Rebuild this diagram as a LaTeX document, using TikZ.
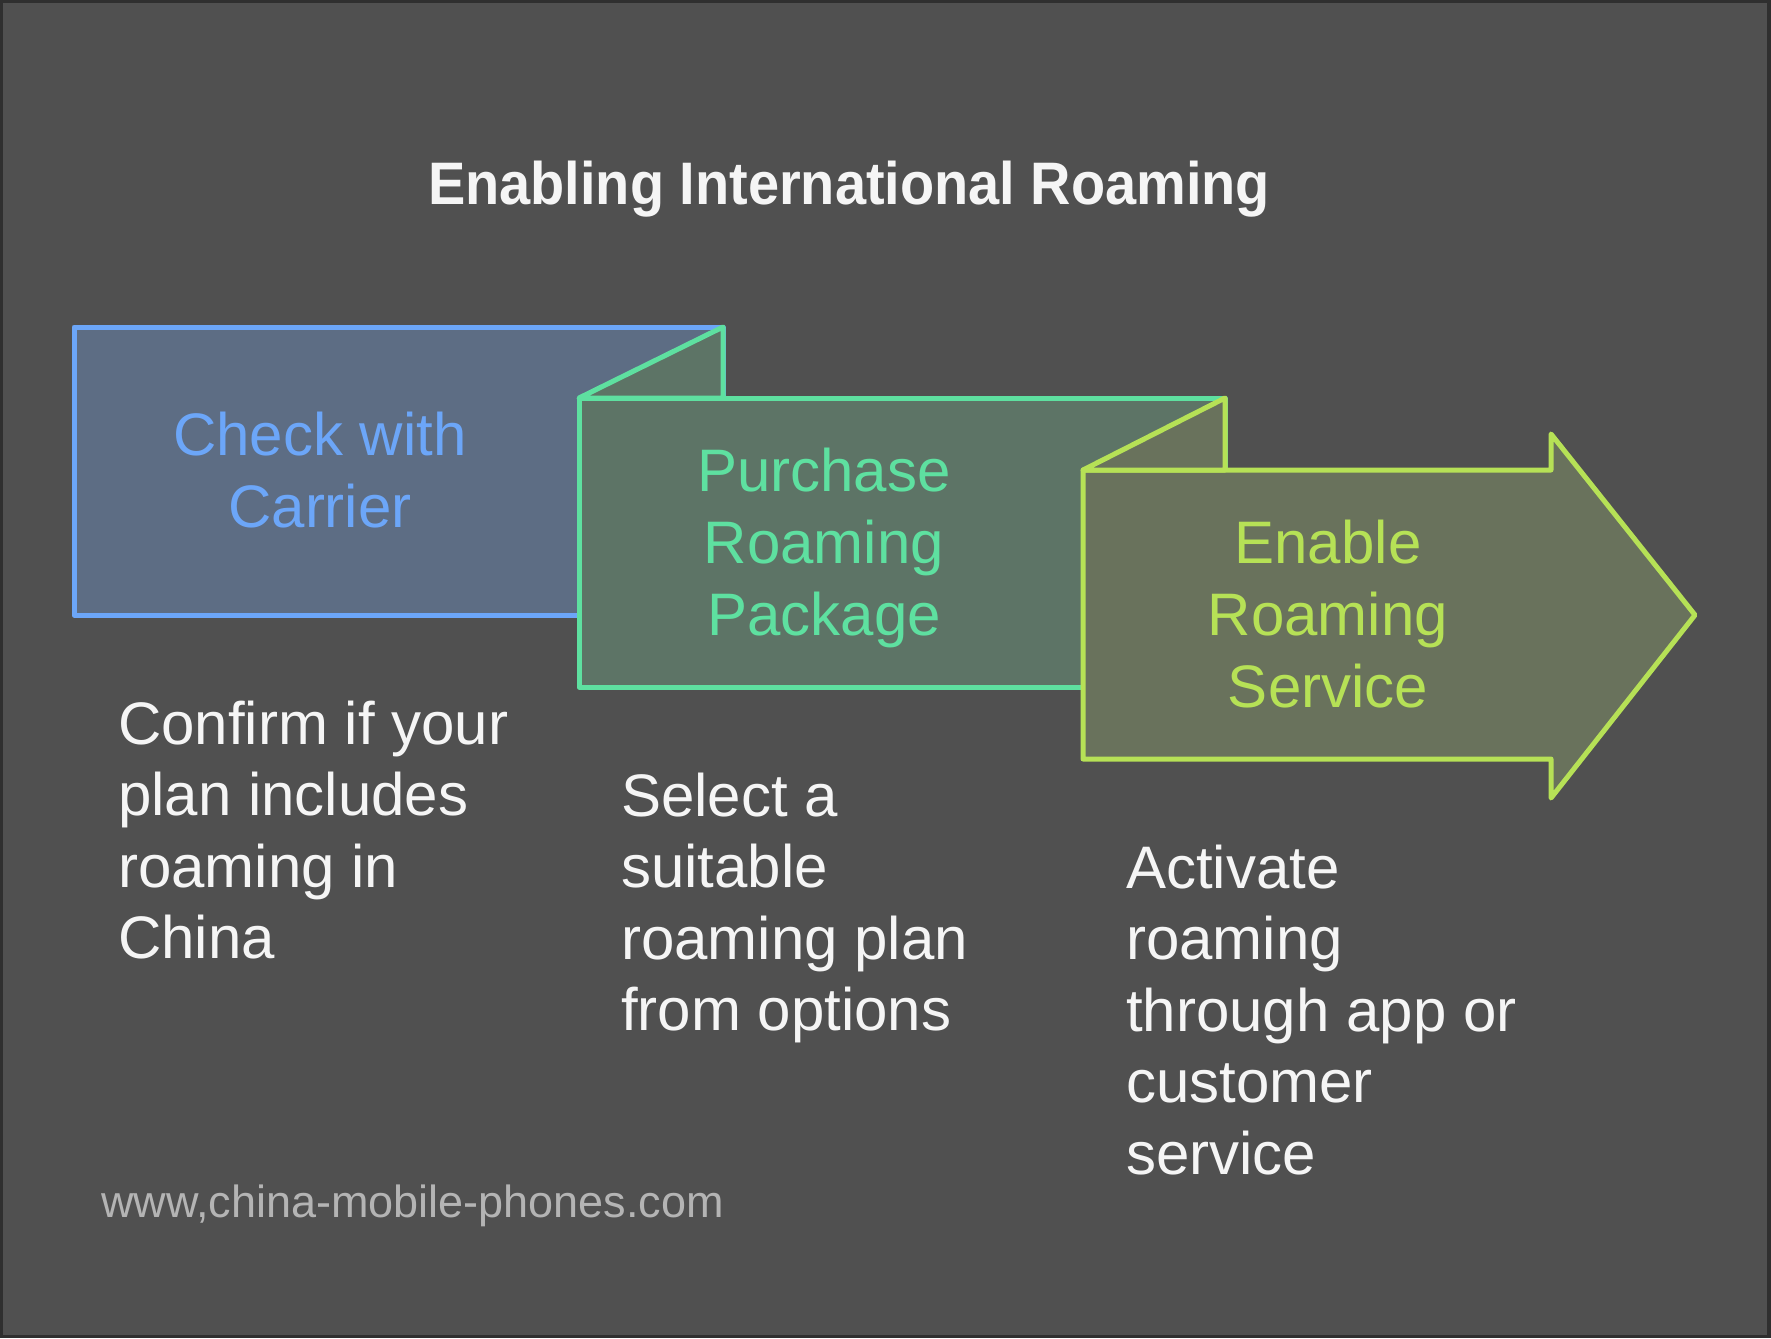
\documentclass[tikz,border=0pt]{standalone}
\usepackage{fontspec}
\setmainfont{Liberation Sans}
\usepackage{graphicx}
\definecolor{frameC}{HTML}{2F2F2F}
\definecolor{bgC}{HTML}{505050}
\definecolor{blueS}{HTML}{6CA6F8}
\definecolor{blueF}{HTML}{5D6D84}
\definecolor{greenS}{HTML}{5EE0A0}
\definecolor{greenF}{HTML}{5D7466}
\definecolor{limeS}{HTML}{B6E156}
\definecolor{limeF}{HTML}{69725C}
\definecolor{txtC}{HTML}{F5F5F5}
\definecolor{wmC}{HTML}{B4B4B4}
\begin{document}
\begin{tikzpicture}[x=1pt,y=-1pt,
  boxline/.style={line width=5pt, line join=round},
  lab/.style={inner sep=0pt, anchor=base, font=\fontsize{60}{72}\selectfont},
  desc/.style={inner sep=0pt, anchor=base west, text=txtC, font=\fontsize{60}{71.5}\selectfont}]
\useasboundingbox (0,0) rectangle (1771,1338);
\fill[frameC] (0,0) rectangle (1771,1338);
\fill[bgC] (3,3) rectangle (1767,1335);

% title
\node[inner sep=0pt, anchor=base, text=txtC, font=\fontsize{60}{72}\selectfont\bfseries] (title) at (849,204) {\scalebox{0.932}[1]{Enabling International Roaming}};

% step 1
\draw[boxline, draw=blueS, fill=blueF] (74,327) rectangle (723,615);
% step 2
\draw[boxline, draw=greenS, fill=greenF] (579,398) rectangle (1225,687);
\draw[boxline, draw=greenS, fill=greenF] (579,398) -- (723,327) -- (723,398) -- cycle;
% step 3
\draw[boxline, draw=limeS, fill=limeF] (1083,470) -- (1551,470) -- (1551,434) -- (1695,615) -- (1551,798) -- (1551,759) -- (1083,759) -- cycle;
\draw[boxline, draw=limeS, fill=limeF] (1083,470) -- (1225,398) -- (1225,470) -- cycle;

% labels
\node[lab, text=blueS] (l1) at (320,455) {\begin{tabular}[t]{@{}c@{}}Check with\\Carrier\end{tabular}};
\node[lab, text=greenS] (l2) at (824,491) {\begin{tabular}[t]{@{}c@{}}Purchase\\Roaming\\Package\end{tabular}};
\node[lab, text=limeS] (l3) at (1328,563) {\begin{tabular}[t]{@{}c@{}}Enable\\Roaming\\Service\end{tabular}};

% descriptions
\node[desc] (d1) at (118,744) {\begin{tabular}[t]{@{}l@{}}Confirm if your\\plan includes\\roaming in\\China\end{tabular}};
\node[desc] (d2) at (621,816) {\begin{tabular}[t]{@{}l@{}}Select a\\suitable\\roaming plan\\from options\end{tabular}};
\node[desc] (d3) at (1126,888) {\begin{tabular}[t]{@{}l@{}}Activate\\roaming\\through app or\\customer\\service\end{tabular}};

% watermark
\node[inner sep=0pt, anchor=base west, text=wmC, font=\fontsize{45}{54}\selectfont] (wm) at (101,1217) {www,china-mobile-phones.com};
\end{tikzpicture}
\end{document}
